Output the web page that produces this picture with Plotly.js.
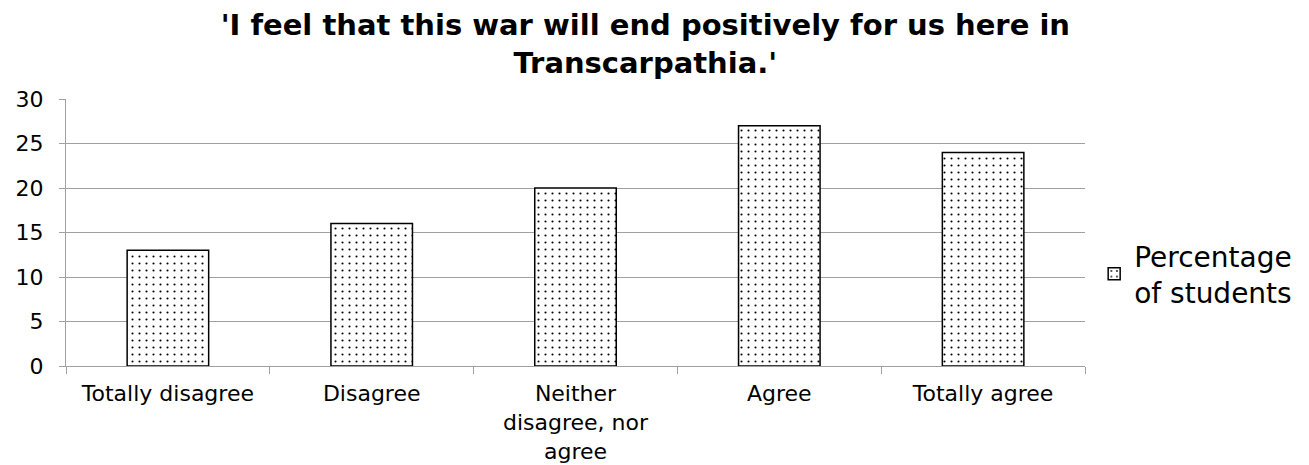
<!DOCTYPE html>
<html><head><meta charset="utf-8">
<script src="https://cdn.plot.ly/plotly-3.0.1.min.js"></script>
<style>html,body{margin:0;padding:0;background:#fff}</style>
</head><body>
<div id="chart" style="width:1309px;height:465px"></div>
<script>
const categories = ["Totally disagree", "Disagree", "Neither<br>disagree, nor<br>agree", "Agree", "Totally agree"];
const values = [13, 16, 20, 27, 24];
const seriesName = "Percentage<br>of students";
const titleText = "'I feel that this war will end positively for us here in<br>Transcarpathia.'";
const yTicks = [0, 5, 10, 15, 20, 25, 30];

const FONT = "DejaVu Sans, sans-serif";
Plotly.newPlot("chart", [{
  type: "bar",
  x: categories,
  y: values,
  name: seriesName,
  showlegend: true,
  marker: {
    color: "#ffffff",
    line: {color: "#000000", width: 1.5},
    pattern: {shape: ".", fgcolor: "#000000", bgcolor: "#ffffff", size: 7, solidity: 0.07}
  },
  hoverinfo: "none"
}], {
  width: 1309, height: 465,
  margin: {l: 66, r: 222, t: 99, b: 99},
  paper_bgcolor: "#fff", plot_bgcolor: "#fff",
  bargap: 0.6,
  font: {family: FONT, color: "#000", size: 20},
  title: {text: titleText, font: {family: FONT, size: 29, weight: "bold", color: "#000"},
          x: 0.493, xanchor: "center", yref: "paper", y: 1, yanchor: "bottom", pad: {b: 64}},
  xaxis: {
    type: "category",
    tickson: "boundaries",
    ticks: "outside", ticklen: 7, tickcolor: "#a0a0a0",
    showline: true, linecolor: "#a0a0a0", linewidth: 1,
    showgrid: false,
    ticklabelstandoff: 8,
    tickfont: {family: FONT, size: 22, color: "#000"}
  },
  yaxis: {
    range: [0, 30],
    tickvals: yTicks,
    ticks: "outside", ticklen: 6, tickcolor: "#a0a0a0",
    showline: true, linecolor: "#a0a0a0", linewidth: 1,
    showgrid: true, gridcolor: "#a0a0a0", gridwidth: 1,
    zeroline: false,
    ticklabelstandoff: 11,
    tickfont: {family: FONT, size: 22, color: "#000"}
  },
  legend: {
    x: 1.009, xanchor: "left", y: 0.345, yanchor: "middle",
    font: {family: FONT, size: 28, color: "#000"},
    itemwidth: 30
  }
}, {staticPlot: true});
</script>
</body></html>
